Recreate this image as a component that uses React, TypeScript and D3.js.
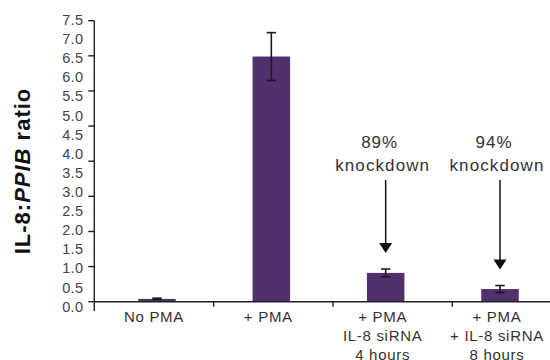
import React from "react";
import * as d3 from "d3";

const categories = ["No PMA", "+ PMA", "+ PMA siRNA 4h", "+ PMA siRNA 8h"];
const categoryLines = [
  ["No PMA"],
  ["+ PMA"],
  ["+ PMA", "IL-8 siRNA", "4 hours"],
  ["+ PMA", "+ IL-8 siRNA", "8 hours"],
];
const values = [0.08, 6.98, 0.82, 0.36];
const errors = [0.02, 0.68, 0.11, 0.1];
const yTickLabels = [0, 0.5, 1, 1.5, 2, 2.5, 3, 3.5, 4, 4.5, 5, 5.5, 6, 6.5, 7, 7.5];
const knockdown = [
  { category: "+ PMA siRNA 4h", label: "89%" },
  { category: "+ PMA siRNA 8h", label: "94%" },
];

const W = 550;
const H = 360;
const font = "'Liberation Sans', Arial, Helvetica, sans-serif";
const barColor = "#52306e";

export default function App() {
  const axisX = 94.3;
  const y = d3.scaleLinear().domain([0, 8]).range([301.7, 20.7]);
  const yLab = d3.scaleLinear().domain([0, 7.5]).range([306.7, 20]);
  const band = d3.scaleBand().domain(categories).range([axisX, 571.6]);
  const x = d3.scalePoint().domain(categories).range([157, 500]);
  const barW = 37.5;
  const y0 = y(0);

  return (
    <svg
      width={W}
      height={H}
      style={{ position: "absolute", left: 0, top: 0, background: "#fff" }}
      fontFamily={font}
    >
      {/* bars */}
      {categories.map((c, i) => (
        <rect
          key={c}
          x={x(c)! - barW / 2}
          y={y(values[i])}
          width={barW}
          height={y0 - y(values[i])}
          fill={barColor}
        />
      ))}

      {/* error bars */}
      {categories.map((c, i) => {
        const cx = x(c)!;
        const top = y(values[i] + errors[i]);
        const bot = y(values[i] - errors[i]);
        return (
          <g key={c} stroke="#1a1a1a" strokeWidth={1.6}>
            <line x1={cx} x2={cx} y1={top} y2={bot} />
            <line x1={cx - 4.7} x2={cx + 4.7} y1={top} y2={top} />
            <line x1={cx - 4.7} x2={cx + 4.7} y1={bot} y2={bot} />
          </g>
        );
      })}

      {/* y axis */}
      <line x1={axisX} x2={axisX} y1={y(8)} y2={311} stroke="#222" strokeWidth={1.4} />
      {d3.range(0, 9).map((t) => (
        <line key={t} x1={axisX - 6} x2={axisX} y1={y(t)} y2={y(t)} stroke="#222" strokeWidth={1.4} />
      ))}
      {yTickLabels.map((t) => (
        <text
          key={t}
          x={83.5}
          y={yLab(t)}
          textAnchor="end"
          dominantBaseline="central"
          fontSize={14.5}
          fill="#444"
          letterSpacing={0.4}
        >
          {t.toFixed(1)}
        </text>
      ))}

      {/* x axis */}
      <line x1={axisX} x2={W} y1={y0} y2={y0} stroke="#222" strokeWidth={1.4} />
      {categories.slice(1).map((c) => (
        <line key={c} x1={band(c)!} x2={band(c)!} y1={y0} y2={y0 + 5} stroke="#222" strokeWidth={1.4} />
      ))}
      {categories.map((c, i) => (
        <text key={c} textAnchor="middle" fontSize={15} fill="#333" letterSpacing={0.7}>
          {categoryLines[i].map((line, j) => (
            <tspan key={j} x={x(c)! - 3} y={321.5 + j * 19.3}>
              {line}
            </tspan>
          ))}
        </text>
      ))}

      {/* y axis title */}
      <text
        transform={`translate(30,171) rotate(-90)`}
        textAnchor="middle"
        fontSize={22}
        fontWeight="bold"
        fill="#111"
        letterSpacing={1}
      >
        IL-8:<tspan fontStyle="italic">PPIB</tspan> ratio
      </text>

      {/* knockdown annotations */}
      {knockdown.map((k) => {
        const i = categories.indexOf(k.category);
        const cx = x(k.category)!;
        const tip = y(values[i] + errors[i]) - 16;
        return (
          <g key={k.category}>
            <text x={cx - 6} y={148} textAnchor="middle" fontSize={17} fill="#333" letterSpacing={1}>
              {k.label}
            </text>
            <text x={cx - 3} y={171} textAnchor="middle" fontSize={17} fill="#333" letterSpacing={1.1}>
              knockdown
            </text>
            <line x1={cx} x2={cx} y1={180} y2={tip - 9} stroke="#111" strokeWidth={1.5} />
            <path d={`M${cx - 6.5},${tip - 10} L${cx + 6.5},${tip - 10} L${cx},${tip} Z`} fill="#111" />
          </g>
        );
      })}
    </svg>
  );
}
